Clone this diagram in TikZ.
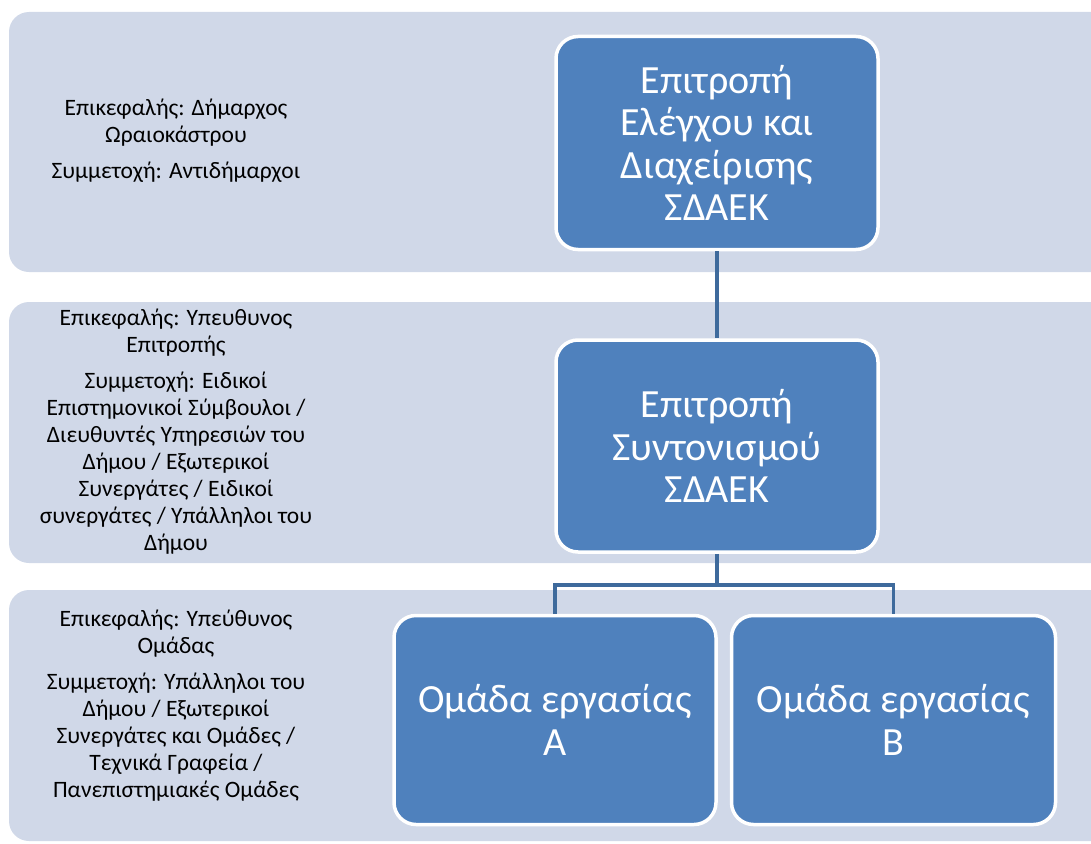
\documentclass[tikz,border=0pt]{standalone}
\usepackage{fontspec}
\setmainfont{Carlito}
\definecolor{bandc}{HTML}{D0D8E8}
\definecolor{boxc}{HTML}{4F81BD}
\definecolor{linec}{HTML}{3E6A9C}
\begin{document}
\begin{tikzpicture}[x=1pt,y=-1pt,
  band/.style={fill=bandc, rounded corners=20pt},
  orgbox/.style={draw=white, line width=3.5pt, fill=boxc, rounded corners=22pt,
    text=white, align=center, inner sep=0pt,
    font=\fontsize{40}{42.5}\selectfont},
  lefttext/.style={align=center, text=black, inner sep=0pt,
    font=\fontsize{23.5}{27}\selectfont},
  conn/.style={draw=linec, line width=3.5pt}]
\useasboundingbox (0,0) rectangle (1091,843);
\clip (0,0) rectangle (1091,843);
% bands
\fill[band] (9,12) rectangle (1130,272);
\fill[band] (9,302) rectangle (1130,563);
\fill[band] (9,590) rectangle (1130,841);
% left texts
\node[lefttext] (t1) at (176,141) {Επικεφαλής: Δήμαρχος\\Ωραιοκάστρου\\[9pt]Συμμετοχή: Αντιδήμαρχοι};
\node[lefttext] (t2) at (176,432) {Επικεφαλής: Υπευθυνος\\Επιτροπής\\[9pt]Συμμετοχή: Ειδικοί\\Επιστημονικοί Σύμβουλοι /\\Διευθυντές Υπηρεσιών του\\Δήμου / Εξωτερικοί\\Συνεργάτες / Ειδικοί\\συνεργάτες / Υπάλληλοι του\\Δήμου};
\node[lefttext] (t3) at (176,706) {Επικεφαλής: Υπεύθυνος\\Ομάδας\\[9pt]Συμμετοχή: Υπάλληλοι του\\Δήμου / Εξωτερικοί\\Συνεργάτες και Ομάδες /\\Τεχνικά Γραφεία /\\Πανεπιστημιακές Ομάδες};
% boxes
\node[orgbox, minimum width=322pt, minimum height=213pt] (b1) at (717,143) {Επιτροπή\\Ελέγχου και\\Διαχείρισης\\ΣΔΑΕΚ};
\node[orgbox, minimum width=322pt, minimum height=212pt] (b2) at (717,446) {Επιτροπή\\Συντονισμού\\ΣΔΑΕΚ};
\node[orgbox, minimum width=322pt, minimum height=209pt] (bA) at (555,720) {Ομάδα εργασίας\\A};
\node[orgbox, minimum width=324pt, minimum height=209pt] (bB) at (893.5,720) {Ομάδα εργασίας\\B};
% connectors
\coordinate (j) at (717,585);
\draw[conn] (b1.south) -- (b2.north);
\draw[conn] (b2.south) -- (j);
\draw[conn] (j) -| (bA.north);
\draw[conn] (j) -| (bB.north);
\end{tikzpicture}
\end{document}
